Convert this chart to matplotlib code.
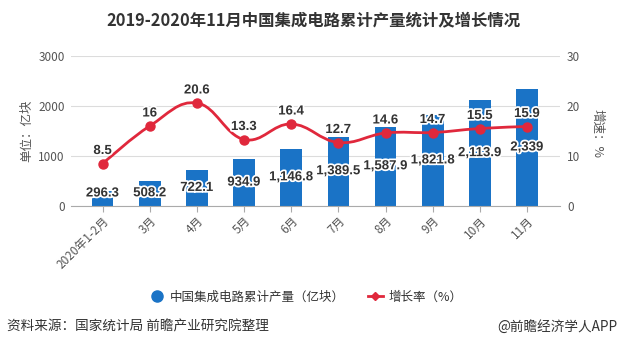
import matplotlib
matplotlib.use("Agg")
import matplotlib.pyplot as plt
import matplotlib.patheffects as pe
from matplotlib.path import Path
from matplotlib.patches import PathPatch
from matplotlib.lines import Line2D
import numpy as np

plt.rcParams['font.family'] = ['Noto Sans CJK SC', 'DejaVu Sans']

categories = ['2020年1-2月', '3月', '4月', '5月', '6月', '7月', '8月', '9月', '10月', '11月']
production = [296.3, 508.2, 722.1, 934.9, 1146.8, 1389.5, 1587.9, 1821.8, 2113.9, 2339]
prod_labels = ['296.3', '508.2', '722.1', '934.9', '1,146.8', '1,389.5', '1,587.9', '1,821.8', '2,113.9', '2,339']
growth = [8.5, 16, 20.6, 13.3, 16.4, 12.7, 14.6, 14.7, 15.5, 15.9]
growth_labels = ['8.5', '16', '20.6', '13.3', '16.4', '12.7', '14.6', '14.7', '15.5', '15.9']

BAR = '#1a73c6'
RED = '#e0283c'
GRID = '#dcdcdc'
TXT = '#555555'
NUMFONT = ['Liberation Sans Narrow', 'Liberation Sans', 'DejaVu Sans']

fig = plt.figure(figsize=(6.19, 3.51), dpi=100)
ax = fig.add_axes([71/619, 145/351, (560-71)/619, 150/351])
ax2 = ax.twinx()

x = np.arange(len(categories))
ax.bar(x, production, width=0.46, color=BAR, zorder=2)
ax.set_ylim(0, 3000)
ax.set_yticks([0, 1000, 2000, 3000])
ax.set_xlim(-0.67, 9.7)
ax.grid(axis='y', color=GRID, linewidth=0.8, zorder=0)
ax.set_axisbelow(True)
for s in ['top', 'right', 'left']:
    ax.spines[s].set_visible(False)
ax.spines['bottom'].set_color('#aaaaaa')
ax.tick_params(axis='y', length=0, labelsize=8.5, colors=TXT, pad=4.5)
ax.tick_params(axis='x', length=4, color='#aaaaaa', labelsize=8.5, colors=TXT, pad=2)
ax.set_xticks(x)
ax.set_xticklabels(categories, rotation=45, ha='right', rotation_mode='anchor')

ax2.set_ylim(0, 30)
ax2.set_yticks([0, 10, 20, 30])
for s in ['top', 'right', 'left', 'bottom']:
    ax2.spines[s].set_visible(False)
ax2.tick_params(axis='y', length=0, labelsize=8.5, colors=TXT, pad=5)

# smooth curve through growth points (drawing style only)
pts = np.column_stack([x, growth]).astype(float)
verts = [tuple(pts[0])]
codes = [Path.MOVETO]
sm = 0.2
n = len(pts)
for i in range(n - 1):
    p0 = pts[i - 1] if i > 0 else pts[i]
    p1 = pts[i]
    p2 = pts[i + 1]
    p3 = pts[i + 2] if i + 2 < n else pts[i + 1]
    c1 = p1 + (p2 - p0) * sm
    c2 = p2 - (p3 - p1) * sm
    verts += [tuple(c1), tuple(c2), tuple(p2)]
    codes += [Path.CURVE4] * 3
ax2.add_patch(PathPatch(Path(verts, codes), facecolor='none', edgecolor=RED, lw=2, zorder=3))
ax2.plot(x, growth, linestyle='none', marker='o', color=RED, markersize=6.5, zorder=4)

stroke = [pe.withStroke(linewidth=2.5, foreground='white')]
for xi, v, lab in zip(x, production, prod_labels):
    ax.text(xi, max(v / 2, 250), lab, ha='center', va='center', fontsize=9.5,
            fontweight='bold', color='#333333', path_effects=stroke, zorder=5,
            family=NUMFONT)
for xi, v, lab in zip(x, growth, growth_labels):
    ax2.text(xi, v + 1.3, lab, ha='center', va='bottom', fontsize=9.5,
             fontweight='bold', color='#333333', path_effects=stroke, zorder=5,
             family=NUMFONT)

fig.text(27/619, 1 - 131/351, '单位：亿块', rotation=90, ha='center', va='center', fontsize=9, color=TXT)
fig.text(597/619, 1 - 133/351, '增速：%', rotation=-90, ha='center', va='center', fontsize=9, color=TXT)

fig.text(313/619, 1 - 20/351, '2019-2020年11月中国集成电路累计产量统计及增长情况', ha='center', va='center',
         fontsize=11.8, fontweight='bold', color='#333333')

handles = [Line2D([], [], linestyle='none', marker='o', color=BAR, markersize=8),
           Line2D([], [], color=RED, lw=2, marker='D', markersize=4)]
fig.legend(handles, ['中国集成电路累计产量（亿块）', '增长率（%）'], loc='center',
           bbox_to_anchor=(306/619, 1 - 297/351), ncol=2, frameon=False, fontsize=9,
           handlelength=1.2, columnspacing=1.8, handletextpad=0.5, labelcolor='#333333')

fig.text(7/619, 1 - 327/351, '资料来源：国家统计局 前瞻产业研究院整理', ha='left', va='center', fontsize=9.8, color='#333333')
fig.text(617/619, 1 - 327/351, '@前瞻经济学人APP', ha='right', va='center', fontsize=9.8, color='#333333')

fig.savefig('out.png', dpi=100)
